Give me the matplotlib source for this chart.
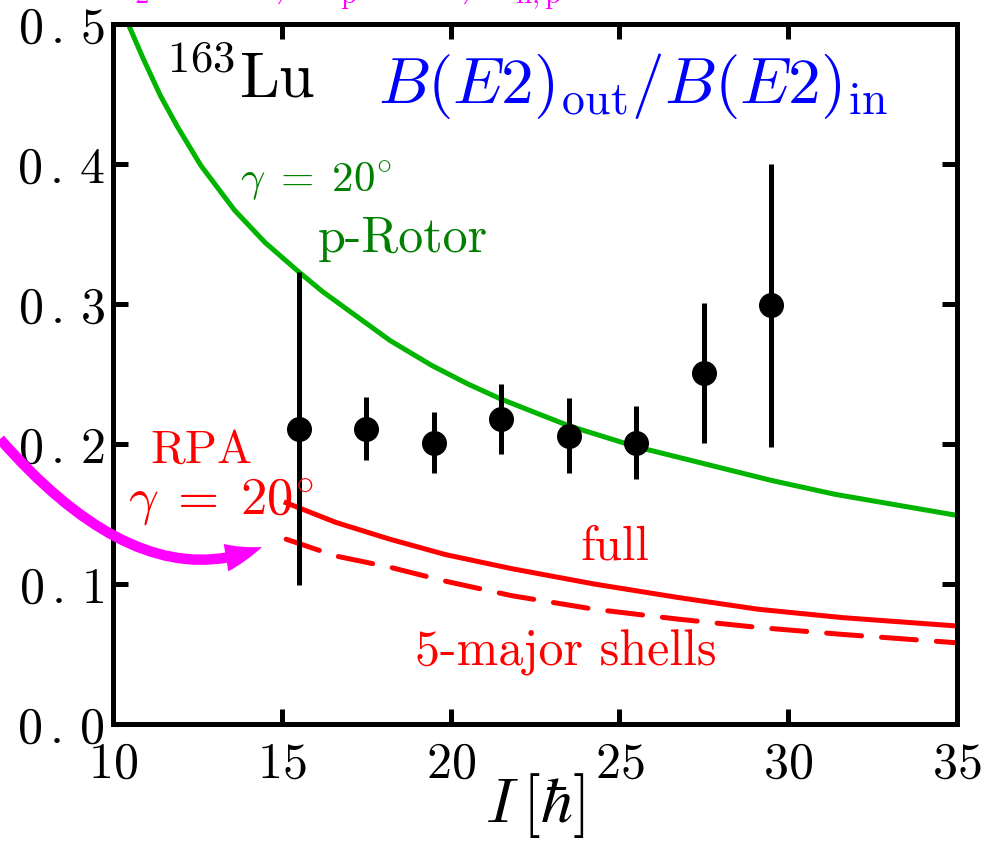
import matplotlib
matplotlib.use("Agg")
import matplotlib.pyplot as plt
from matplotlib.patches import FancyArrowPatch, ArrowStyle
from matplotlib.path import Path

plt.rcParams['mathtext.fontset'] = 'cm'
plt.rcParams['font.family'] = ['cmr10', 'DejaVu Sans']
plt.rcParams['axes.formatter.use_mathtext'] = True

# ---------------- data ----------------
exp_I = [15.5, 17.5, 19.5, 21.5, 23.5, 25.5, 27.5, 29.5]
exp_val = [0.211, 0.211, 0.201, 0.218, 0.206, 0.201, 0.251, 0.299]
exp_err = [0.112, 0.0225, 0.022, 0.025, 0.027, 0.026, 0.050, 0.101]

rotor_I = [10.45, 10.9, 11.4, 11.9, 12.6, 13.6, 14.5, 15.5, 16.2, 17.0, 18.2,
           19.45, 20.5, 21.5, 23.5, 25.5, 27.5, 29.5, 31.4, 35.0]
rotor_val = [0.500, 0.475, 0.449, 0.427, 0.399, 0.367, 0.344, 0.323, 0.309,
             0.295, 0.274, 0.256, 0.243, 0.232, 0.213, 0.198, 0.186, 0.174,
             0.164, 0.149]

rpa_I = [15.13, 16.6, 18.2, 19.85, 21.8, 24.25, 26.7, 29.1, 31.6, 35.0]
rpa_full = [0.158, 0.144, 0.132, 0.121, 0.111, 0.100, 0.0905, 0.082, 0.076, 0.070]
rpa_5shell = [0.132, 0.120, 0.112, 0.102, 0.0917, 0.082, 0.075, 0.069, 0.064, 0.058]

xticks = [10, 15, 20, 25, 30, 35]
xticklabels = ['$10$', '$15$', '$20$', '$25$', '$30$', '$35$']
yticks = [0.0, 0.1, 0.2, 0.3, 0.4, 0.5]
yticklabels = [r'$0\,.\,0$', r'$0\,.\,1$', r'$0\,.\,2$', r'$0\,.\,3$',
               r'$0\,.\,4$', r'$0\,.\,5$']

# ---------------- figure ----------------
W, H = 1008, 845
fig = plt.figure(figsize=(W / 100, H / 100), dpi=100)
ax = fig.add_axes([113 / W, (H - 725) / H, 844 / W, 700 / H])

ax.plot(rotor_I, rotor_val, color='#00b400', lw=3.6, zorder=2)
ax.plot(rpa_I, rpa_full, color='#ff0000', lw=3.6, zorder=2)
ax.plot(rpa_I, rpa_5shell, color='#ff0000', lw=3.6, dashes=(7.0, 4.0),
        dash_capstyle='round', zorder=2)
ax.errorbar(exp_I, exp_val, yerr=exp_err, fmt='o', color='black', ms=17,
            elinewidth=3.6, capsize=0, zorder=3)

ax.set_xlim(10, 35)
ax.set_ylim(0.0, 0.5)
ax.set_xticks(xticks)
ax.set_xticklabels(xticklabels)
ax.set_yticks(yticks)
ax.set_yticklabels(yticklabels)
ax.tick_params(direction='in', length=11, width=3.6, top=True, right=True,
               labelsize=36)
ax.tick_params(axis='x', pad=12)
ax.tick_params(axis='y', pad=6)
for sp in ax.spines.values():
    sp.set_linewidth(3.6)

ax.set_xlabel(r'$I\,[\hbar]$', fontsize=46, labelpad=-12)


def ftext(x, y, s, **kw):
    fig.text(x / W, 1 - y / H, s, ha='left', va='baseline', **kw)


ftext(165, 97, r'${}^{163}\mathrm{Lu}$', fontsize=46, color='black')
ftext(378, 103, r'$B(E2)_{\rm out}/B(E2)_{\rm in}$', fontsize=47, color='#0000ff')
ftext(240, 192, r'$\gamma\;=\;20^{\circ}$', fontsize=31, color='#008000')
ftext(318, 252, 'p-Rotor', fontsize=36, color='#008000')
ftext(150, 463, 'RPA', fontsize=34, color='#ff0000')
ftext(128, 515, r'$\gamma\;=\;20^{\circ}$', fontsize=38, color='#ff0000')
ftext(580, 560, 'full', fontsize=35, color='#ff0000')
ftext(415, 665, '5-major shells', fontsize=36, color='#ff0000')

# magenta label mostly cut off at the top edge (as in the reference)
ftext(118, -4, r'$\epsilon_2 = 0.30,\ \Delta_{\rm p} = 1.0,\ \lambda_{\rm n,p}$',
      fontsize=30, color='#ff00ff')

# magenta curved arrow
verts = [(0 / W, 1 - 440 / H), (140 / W, 1 - 600 / H), (262 / W, 1 - 548 / H)]
path = Path(verts, [Path.MOVETO, Path.CURVE3, Path.CURVE3])
arrow = FancyArrowPatch(path=path,
                        arrowstyle=ArrowStyle('simple', head_length=2.7,
                                              head_width=2.0, tail_width=0.75),
                        mutation_scale=10, transform=fig.transFigure,
                        facecolor='#ff00ff', edgecolor='none', lw=0)
fig.add_artist(arrow)

fig.savefig('out.png', dpi=100)
